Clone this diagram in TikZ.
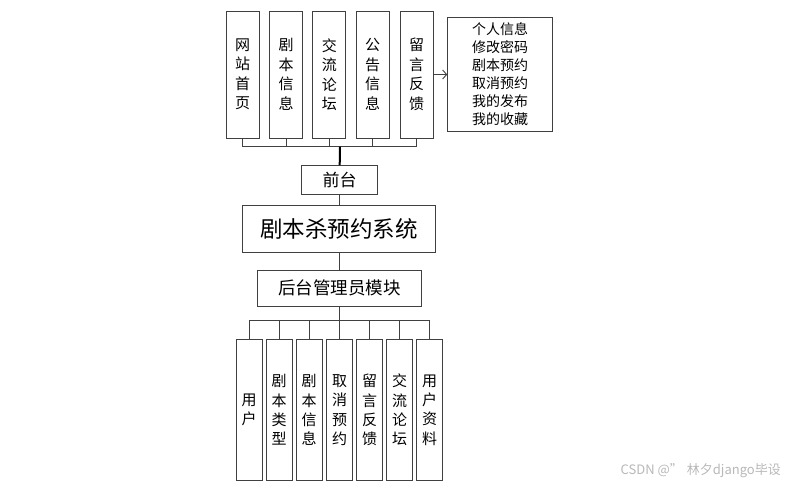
\documentclass[tikz,border=0pt]{standalone}
\usepackage{fontspec}
\newfontfamily\cjk{Noto Sans CJK SC}
\usetikzlibrary{arrows.meta}
\begin{document}
\begin{tikzpicture}[x=1pt,y=-1pt,
  box/.style={draw=black!75, line width=0.9pt, inner sep=0pt, align=center},
  vbox/.style={box, minimum width=33pt, minimum height=127pt, font=\cjk\fontsize{15}{19.5}\selectfont},
  bvbox/.style={box, minimum width=26pt, minimum height=141.4pt, font=\cjk\fontsize{15}{19.3}\selectfont},
  conn/.style={draw=black!75, line width=0.9pt},
]
\path[use as bounding box] (0,0) rectangle (789,486);

% top front-end boxes
\node[vbox] (t1) at (242.7,74.5) {网\\站\\首\\页};
\node[vbox] (t2) at (286.0,74.5) {剧\\本\\信\\息};
\node[vbox] (t3) at (329.3,74.5) {交\\流\\论\\坛};
\node[vbox] (t4) at (372.7,74.5) {公\\告\\信\\息};
\node[vbox] (t5) at (416.7,74.5) {留\\言\\反\\馈};
\node[box, minimum width=104.6pt, minimum height=114.4pt, font=\cjk\fontsize{14}{18}\selectfont] (info) at (500,74.5)
  {个人信息\\修改密码\\剧本预约\\取消预约\\我的发布\\我的收藏};
\draw[conn, -{Straight Barb[length=4pt,width=9pt]}] (t5.east) -- (info.west);

% front bus
\coordinate (bus) at (340,146.7);
\foreach \n in {t1,t2,t3,t4,t5}{\draw[conn] (\n.south) -- (\n.south |- bus);}
\draw[conn] (t1.south |- bus) -- (t5.south |- bus);

\node[box, minimum width=76pt, minimum height=29.3pt, font=\cjk\fontsize{17}{17}\selectfont] (qt) at (339.7,180.3) {前台};
\draw[black, line width=2pt] (bus) -- (qt.north);

\node[box, minimum width=193pt, minimum height=47.3pt, font=\cjk\fontsize{22.5}{22.5}\selectfont] (sys) at (339.2,228.7) {剧本杀预约系统};
\draw[conn] (qt.south) -- (qt.south |- sys.north);

\node[box, minimum width=164.4pt, minimum height=36pt, font=\cjk\fontsize{17.5}{17.5}\selectfont] (ht) at (339.5,288) {后台管理员模块};
\draw[conn] (sys.south) -- (sys.south |- ht.north);

% back bus
\coordinate (bbus) at (339.5,320.7);
\draw[conn] (ht.south) -- (bbus);
\node[bvbox] (b1) at (249.0,410) {用\\户};
\node[bvbox] (b2) at (279.1,410) {剧\\本\\类\\型};
\node[bvbox] (b3) at (309.2,410) {剧\\本\\信\\息};
\node[bvbox] (b4) at (339.5,410) {取\\消\\预\\约};
\node[bvbox] (b5) at (369.5,410) {留\\言\\反\\馈};
\node[bvbox] (b6) at (399.6,410) {交\\流\\论\\坛};
\node[bvbox] (b7) at (429.7,410) {用\\户\\资\\料};
\foreach \n in {b1,b2,b3,b4,b5,b6,b7}{\draw[conn] (\n.north) -- (\n.north |- bbus);}
\draw[conn] (b1.north |- bbus) -- (b7.north |- bbus);

% watermark
\node[font=\cjk\fontsize{13}{13}\selectfont, text=black!28, anchor=east, inner sep=0pt] (wm) at (781,470.7) {CSDN @”\hspace{4pt}林夕django毕设};
\end{tikzpicture}
\end{document}
